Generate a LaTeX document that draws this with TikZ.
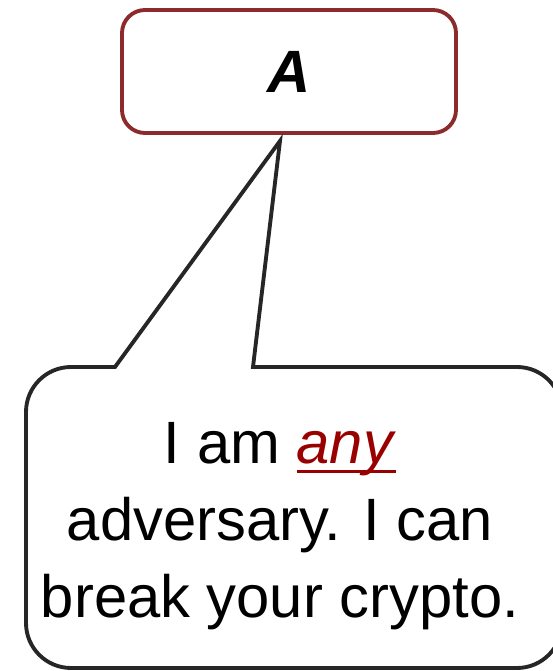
\documentclass[tikz,border=0pt]{standalone}
\usepackage{fontspec}
\setmainfont{Liberation Sans}
\usepackage{xcolor}
\usepackage{tikz}
\usetikzlibrary{positioning}
\definecolor{boxred}{RGB}{139, 43, 43}
\definecolor{anyred}{RGB}{153, 0, 0}
\definecolor{outline}{RGB}{38, 38, 38}

% underline that runs through the descenders
\newcommand{\anyline}[1]{\setbox0=\hbox{#1}\rlap{\rule[-0.165em]{\wd0}{0.06em}}\box0}

\begin{document}
\begin{tikzpicture}
    \useasboundingbox (0,0) rectangle (11.06,13.42);

    % Adversary box
    \node[draw=boxred, line width=2.2pt, rounded corners=0.46cm,
          minimum width=6.68cm, minimum height=2.46cm,
          font=\fontsize{34}{41}\selectfont\bfseries\itshape] (adv) at (5.78,11.99) {A};

    % Speech bubble with its pointer
    \coordinate[below left=0.12cm and 0.18cm of adv.south] (tip);
    \draw[outline, line width=2.2pt] (2.3,6.08) -- (tip) -- (5.06,6.08) -- (10.34,6.08)
        arc[start angle=90, end angle=0, radius=0.9] -- (11.24,0.96)
        arc[start angle=0, end angle=-90, radius=0.9] -- (1.42,0.06)
        arc[start angle=270, end angle=180, radius=0.9] -- (0.52,5.18)
        arc[start angle=180, end angle=90, radius=0.9] -- cycle;

    % Bubble text
    \node[font=\fontsize{34}{43.7}\selectfont, align=center] (speech) at (5.6,2.9)
        {I am \textcolor{anyred}{\anyline{\textit{any}}}\\adversary. I can\\break your crypto.};
\end{tikzpicture}
\end{document}
